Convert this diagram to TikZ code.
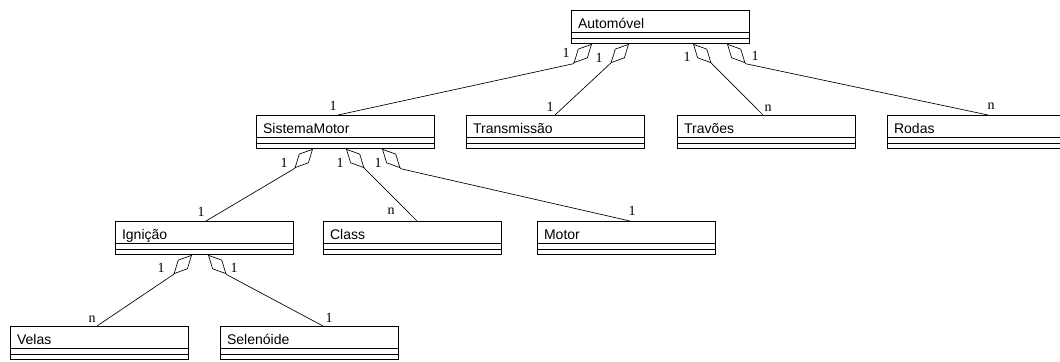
\documentclass[tikz,border=0pt]{standalone}
\usepackage{fontspec}
\setmainfont{Liberation Serif}
\setsansfont{Liberation Sans}
\usetikzlibrary{arrows.meta,calc}

\begin{document}
\begin{tikzpicture}[x=0.75pt,y=-0.75pt,
    cls/.style={draw, line width=0.6pt, anchor=north west, minimum height=16.5pt, text width=123.5pt, inner xsep=5pt, inner ysep=0pt, align=left, text height=10pt, text depth=0pt, font=\sffamily\fontsize{10.5}{12}\selectfont},
    comp/.style={draw, line width=0.6pt},
    agg/.style={{Diamond[open,length=20pt,width=10pt]}-, line width=0.5pt},
    mult/.style={inner sep=0pt, font=\fontsize{10.5}{12}\selectfont}
]
\path[use as bounding box,clip] (0,0) rectangle (1060,361);

% classes
\node[cls] (auto) at (571,10) {Automóvel};
\node[cls] (sismot) at (256,115) {SistemaMotor};
\node[cls] (transm) at (466,115) {Transmissão};
\node[cls] (travoes) at (677,115) {Travões};
\node[cls] (rodas) at (887,115) {Rodas};
\node[cls] (ignicao) at (115,221) {Ignição};
\node[cls] (classe) at (323,221) {Class};
\node[cls] (motor) at (537,221) {Motor};
\node[cls] (velas) at (10,326) {Velas};
\node[cls] (selen) at (220,326) {Selenóide};

% empty compartments
\foreach \c in {auto,sismot,transm,travoes,rodas,ignicao,classe,motor,velas,selen}
  \draw[comp] (\c.south west) rectangle ($(\c.south east)+(0,11)$)
    ($(\c.south west)+(0,5.5)$) -- ($(\c.south east)+(0,5.5)$);

% aggregations
\draw[agg] ($(auto.south west)+(21,11)$) -- ++(-19,20) -- ($(sismot.north west)+(82,0)$);
\draw[agg] ($(auto.south west)+(58,11)$) -- ++(-19,20) -- ($(transm.north west)+(89,0)$);
\draw[agg] ($(auto.south west)+(122,11)$) -- ++(19,20) -- ($(travoes.north west)+(86,0)$);
\draw[agg] ($(auto.south west)+(156,11)$) -- ++(19,20) -- ($(rodas.north west)+(101,0)$);
\draw[agg] ($(sismot.south west)+(57,11)$) -- ++(-19,20) -- ($(ignicao.north west)+(91,0)$);
\draw[agg] ($(sismot.south west)+(90,11)$) -- ++(19,20) -- ($(classe.north west)+(94,0)$);
\draw[agg] ($(sismot.south west)+(126,11)$) -- ++(19,20) -- ($(motor.north west)+(93,0)$);
\draw[agg] ($(ignicao.south west)+(77,11)$) -- ++(-19,20) -- ($(velas.north west)+(87,0)$);
\draw[agg] ($(ignicao.south west)+(93,11)$) -- ++(19,20) -- ($(selen.north west)+(103,0)$);

% multiplicities
\node[mult] (m1a) at (566,53) {1};
\node[mult] (m1b) at (333,106) {1};
\node[mult] (m2a) at (599,58) {1};
\node[mult] (m2b) at (550,107) {1};
\node[mult] (m3a) at (687,57) {1};
\node[mult] (m3b) at (768,108) {n};
\node[mult] (m4a) at (755,56) {1};
\node[mult] (m4b) at (991,106) {n};
\node[mult] (m5a) at (284,163) {1};
\node[mult] (m5b) at (201,212) {1};
\node[mult] (m6a) at (340,163) {1};
\node[mult] (m6b) at (391,211) {n};
\node[mult] (m7a) at (378,163) {1};
\node[mult] (m7b) at (632,211) {1};
\node[mult] (m8a) at (161,268) {1};
\node[mult] (m8b) at (92,319) {n};
\node[mult] (m9a) at (234,268) {1};
\node[mult] (m9b) at (329,318) {1};
\end{tikzpicture}
\end{document}
